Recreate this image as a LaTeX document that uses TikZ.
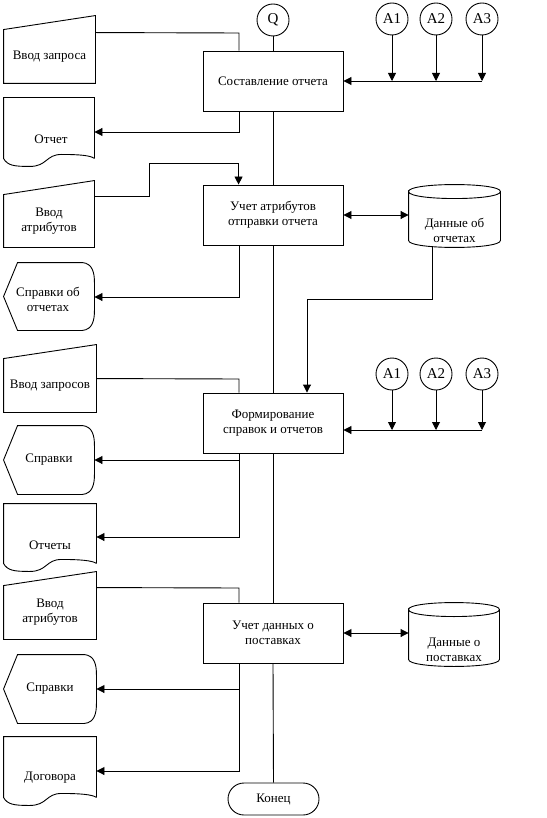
\documentclass[tikz,border=0pt]{standalone}
\usepackage{fontspec}
\setmainfont{Liberation Serif}
\usetikzlibrary{arrows.meta,calc}
\newcommand\InOutline[1]{\draw (#1.south west) -- (#1.north west) -- ($(#1.north east)+(0,-14)$) -- (#1.south east) -- cycle;}
\newcommand\DocOutline[1]{\draw (#1.south east) -- (#1.north east) -- (#1.north west) -- (#1.south west)
  .. controls ($(#1.south west)+(4,7)$) and ($(#1.south west)+(10,8)$) .. ($(#1.south west)+(26,8)$)
  .. controls ($(#1.south west)+(44,8)$) and ($(#1.south west)+(42,-4)$) .. ($(#1.south west)+(58,-4)$)
  .. controls ($(#1.south west)+(76,-4)$) and ($(#1.south east)+(-4,-3)$) .. (#1.south east);}
\newcommand\DispOutline[1]{\draw ($(#1.north west)+(14,0)$) -- ($(#1.north east)+(-12,0)$)
  .. controls ($(#1.north east)+(-2,1)$) and ($(#1.north east)+(0,10)$) .. ($(#1.north east)+(0,20)$)
  -- ($(#1.south east)+(0,-20)$)
  .. controls ($(#1.south east)+(0,-10)$) and ($(#1.south east)+(-2,-1)$) .. ($(#1.south east)+(-12,0)$)
  -- ($(#1.south west)+(14,0)$) -- (#1.west) -- cycle;}
\newcommand\CylOutline[1]{\draw ($(#1.north west)+(0,7)$)
  .. controls ($(#1.north west)+(0,-2.33)$) and ($(#1.north east)+(0,-2.33)$) .. ($(#1.north east)+(0,7)$)
  .. controls ($(#1.north east)+(0,16.33)$) and ($(#1.north west)+(0,16.33)$) .. ($(#1.north west)+(0,7)$)
  -- ($(#1.south west)+(0,-7)$)
  .. controls ($(#1.south west)+(0,2.33)$) and ($(#1.south east)+(0,2.33)$) .. ($(#1.south east)+(0,-7)$)
  -- ($(#1.north east)+(0,7)$);}
\begin{document}
\begin{tikzpicture}[x=1pt,y=-1pt,line width=0.9pt,
  every node/.style={font=\fontsize{13}{15}\selectfont,align=center,inner sep=0pt},
  procbox/.style={draw,minimum width=140pt,minimum height=60pt},
  conn/.style={draw,circle,minimum size=32pt,font=\fontsize{15}{15}\selectfont},
  arr/.style={-{Triangle[length=8pt,width=8pt]}},
  darr/.style={{Triangle[length=8pt,width=8pt]}-{Triangle[length=8pt,width=8pt]}}]
\useasboundingbox (0,0) rectangle (546,818);

% process boxes
\node[procbox] (b1) at (273,81) {Составление отчета};
\node[procbox] (b2) at (273,215) {Учет атрибутов\\отправки отчета};
\node[procbox] (b3) at (273,423) {Формирование\\справок и отчетов};
\node[procbox] (b4) at (273,633) {Учет данных о\\поставках};

% connectors (circles)
\node[conn] (q) at (273,20) {Q};
\node[conn] (a1) at (392,19) {A1};
\node[conn] (a2) at (436,19) {A2};
\node[conn] (a3) at (482,19) {A3};
\node[conn] (c1) at (392,374) {A1};
\node[conn] (c2) at (436,374) {A2};
\node[conn] (c3) at (482,374) {A3};

% terminator
\node[draw,rounded corners=16pt,minimum width=91pt,minimum height=32pt] (fin) at (273.5,799) {Конец};

% left column
\node[minimum width=91pt,minimum height=53pt] (in1) at (49.5,56.5) {Ввод запроса};
\InOutline{in1}
\node[minimum width=90pt,minimum height=60pt] (doc1) at (49,128) {};
\DocOutline{doc1}
\node (doc1t) at (51,139) {Отчет};
\node[minimum width=90pt,minimum height=52pt] (in2) at (49,221) {Ввод\\атрибутов};
\InOutline{in2}
\node[minimum width=90pt,minimum height=67pt] (disp1) at (49,296.5) {};
\DispOutline{disp1}
\node (disp1t) at (48,299.5) {Справки об\\отчетах};
\node[minimum width=92pt,minimum height=53pt] (in3) at (50,385.5) {Ввод запросов};
\InOutline{in3}
\node[minimum width=90pt,minimum height=68pt] (disp2) at (49,460) {Справки};
\DispOutline{disp2}
\node[minimum width=92pt,minimum height=59pt] (doc2) at (50,533.5) {};
\DocOutline{doc2}
\node (doc2t) at (50,545) {Отчеты};
\node[minimum width=92pt,minimum height=53pt] (in4) at (50,612.5) {Ввод\\атрибутов};
\InOutline{in4}
\node[minimum width=92pt,minimum height=68pt] (disp3) at (50,689) {Справки};
\DispOutline{disp3}
\node[minimum width=92pt,minimum height=60pt] (doc3) at (50,767) {};
\DocOutline{doc3}
\node (doc3t) at (50,778) {Договора};

% databases
\node[minimum width=91pt,minimum height=62pt] (db1) at (454.5,216) {};
\CylOutline{db1}
\node (db1t) at (454.5,230) {Данные об\\отчетах};
\node[minimum width=90pt,minimum height=63pt] (db2) at (454,634.5) {};
\CylOutline{db2}
\node (db2t) at (454,650) {Данные о\\поставках};

% bend points
\coordinate (k1) at (239,33);
\coordinate (k2) at (239,132);
\coordinate (k3) at (149,163);
\coordinate (k4) at (239,297);
\coordinate (k5a) at (432,299);
\coordinate (k5) at (307,299);
\coordinate (k6) at (239,379);
\coordinate (bus2) at (482,430);
\coordinate (k7) at (239,460);
\coordinate (k8) at (239,537);
\coordinate (k9) at (239,588);
\coordinate (k10) at (239,689);
\coordinate (k11) at (239,771);

% main trunk
\draw (q.south) -- (b1.north);
\draw (b1.south) -- (b2.north);
\draw (b2.south) -- (b3.north);
\draw (b3.south) -- (b4.north);
\draw (b4.south) -- (fin.north);

% block 1
\draw ($(in1.north east)+(0,3)$) -- (k1) -- (k1 |- b1.north);
\draw[arr] (k2 |- b1.south) -- (k2) -- (k2 -| doc1.east);
\draw[arr] (a1.south) -- (a1 |- b1.east);
\draw[arr] (a2.south) -- (a2 |- b1.east);
\draw[arr] (a3.south) -- (a3 |- b1.east);
\draw[arr] (a3 |- b1.east) -- (b1.east);

% block 2
\draw[arr] ($(in2.north east)+(0,2)$) -| (k3) -| ($(b2.north west)+(36,0)$);
\draw[darr] (b2.east) -- (b2.east -| db1.west);
\draw[arr] (k4 |- b2.south) -- (k4) -- (k4 -| disp1.east);
\draw[arr] (k5a |- db1.south) -- (k5a) -- (k5) -- (k5 |- b3.north);

% block 3
\draw ($(in3.north east)+(0,20)$) -- (k6) -- (k6 |- b3.north);
\draw[arr] (c1.south) -- (c1 |- bus2);
\draw[arr] (c2.south) -- (c2 |- bus2);
\draw[arr] (c3.south) -- (bus2);
\draw[arr] (bus2) -- (bus2 -| b3.east);
\draw[arr] (k8 |- b3.south) -- (k8) -- (k8 -| doc2.east);
\draw[arr] (k7) -- (k7 -| disp2.east);

% block 4
\draw ($(in4.north east)+(0,2)$) -- (k9) -- (k9 |- b4.north);
\draw[darr] (b4.east) -- (b4.east -| db2.west);
\draw[arr] (k11 |- b4.south) -- (k11) -- (k11 -| doc3.east);
\draw[arr] (k10) -- (k10 -| disp3.east);
\end{tikzpicture}
\end{document}
